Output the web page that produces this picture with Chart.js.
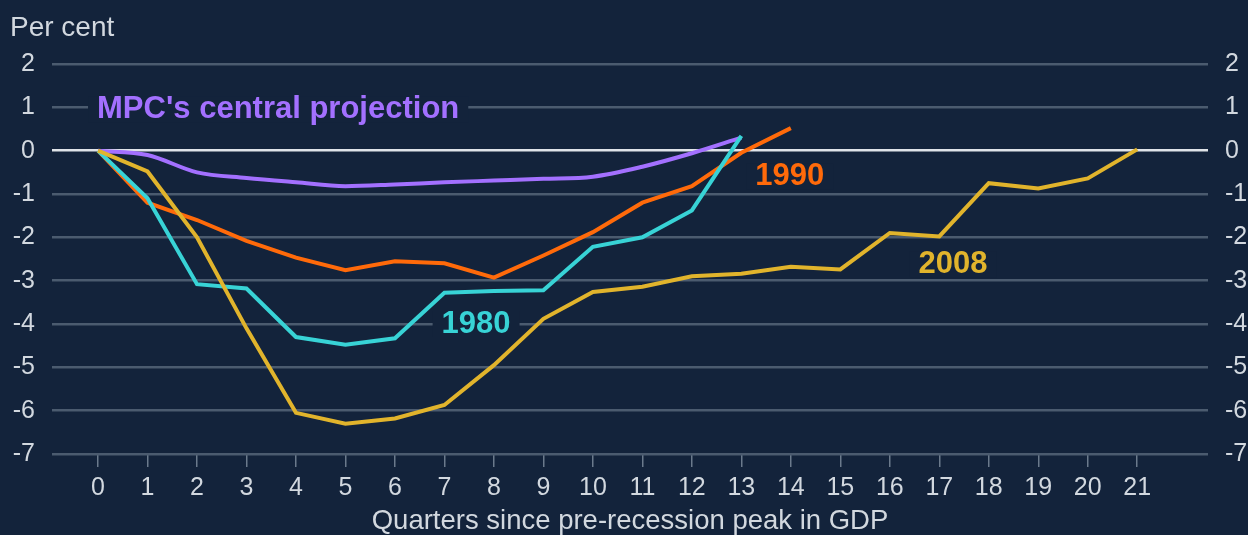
<!DOCTYPE html>
<html>
<head>
<meta charset="utf-8">
<script src="https://cdn.jsdelivr.net/npm/chart.js@4.4.1/dist/chart.umd.min.js"></script>
<style>
  html, body { margin: 0; padding: 0; background: #13233b; }
  #wrap { width: 1248px; height: 535px; }
</style>
</head>
<body>
<div id="wrap"><canvas id="myChart" width="1248" height="535"></canvas></div>
<script>
// quarters since pre-recession peak
var quarters = [0,1,2,3,4,5,6,7,8,9,10,11,12,13,14,15,16,17,18,19,20,21];
var yTicks = [2,1,0,-1,-2,-3,-4,-5,-6,-7];

// per cent change in GDP from peak
var mpc    = [0,-0.1,-0.5,-0.63,-0.73,-0.82,-0.78,-0.73,-0.69,-0.65,-0.6,-0.37,-0.06,0.3];
var r1980  = [0,-1.1,-3.08,-3.18,-4.3,-4.48,-4.33,-3.28,-3.24,-3.22,-2.22,-2.0,-1.38,0.34];
var r1990  = [0,-1.2,-1.6,-2.08,-2.47,-2.76,-2.55,-2.6,-2.93,-2.42,-1.88,-1.2,-0.82,-0.05,0.52];
var r2008  = [0,-0.48,-2.0,-4.1,-6.05,-6.3,-6.18,-5.87,-4.95,-3.88,-3.26,-3.14,-2.9,-2.84,-2.68,-2.74,-1.9,-1.98,-0.75,-0.87,-0.64,0.03];

var bg = "#13233b";
var txt = "#d2d8df";

function pts(arr) {
  return arr.map(function (v, i) { return { x: quarters[i], y: v }; });
}

// series labels sitting on the chart (data coords)
var notes = [
  { text: "MPC's central projection", x: -0.02, y: 0.94, color: "#a370ff", align: "left" },
  { text: "1990", x: 13.28, y: -0.6, color: "#ff6a0a", align: "left" },
  { text: "1980", x: 7.64, y: -4.0, color: "#38d3d6", align: "center" },
  { text: "2008", x: 16.58, y: -2.63, color: "#e1b42c", align: "left" }
];

var notesPlugin = {
  id: 'notes',
  beforeDatasetsDraw: function (chart) {
    var ctx = chart.ctx, xs = chart.scales.x, ys = chart.scales.y;
    ctx.save();
    ctx.font = "bold 31px 'Liberation Sans', Arial, sans-serif";
    ctx.textBaseline = "middle";
    notes.forEach(function (n) {
      var px = xs.getPixelForValue(n.x), py = ys.getPixelForValue(n.y);
      var w = ctx.measureText(n.text).width;
      var left = n.align == "center" ? px - w / 2 : px;
      ctx.fillStyle = bg;
      ctx.fillRect(left - 9, py - 13, w + 18, 26);
      ctx.fillStyle = n.color;
      ctx.textAlign = "left";
      ctx.fillText(n.text, left, py);
    });
    // axis unit
    ctx.font = "28px 'Liberation Sans', Arial, sans-serif";
    ctx.fillStyle = txt;
    ctx.textBaseline = "alphabetic";
    ctx.fillText("Per cent", 10, 36);
    ctx.restore();
  }
};

var ctx = document.getElementById("myChart").getContext('2d');
var myChart = new Chart(ctx, {
  type: 'line',
  data: {
    datasets: [
      { label: "2008", data: pts(r2008), borderColor: "#e1b42c" },
      { label: "1980", data: pts(r1980), borderColor: "#38d3d6" },
      { label: "1990", data: pts(r1990), borderColor: "#ff6a0a" },
      { label: "MPC", data: pts(mpc), borderColor: "#a370ff", cubicInterpolationMode: 'monotone' }
    ]
  },
  options: {
    responsive: false,
    animation: false,
    layout: { padding: { top: 64, bottom: 0, left: 0, right: 0 } },
    elements: {
      line: { borderWidth: 4, tension: 0, fill: false },
      point: { radius: 0 }
    },
    plugins: { legend: { display: false }, tooltip: { enabled: false } },
    scales: {
      x: {
        type: 'linear',
        min: -0.93,
        max: 22.43,
        afterBuildTicks: function (s) { s.ticks = quarters.map(function (q) { return { value: q }; }); },
        afterFit: function (s) { s.height = 81; },
        border: { display: false },
        grid: { drawOnChartArea: false, drawTicks: true, tickLength: 13, color: "#6b7a8c", lineWidth: 1.5 },
        ticks: { color: txt, font: { family: "'Liberation Sans', Arial", size: 25 }, padding: 6, maxRotation: 0, autoSkip: false },
        title: {
          display: true,
          text: "Quarters since pre-recession peak in GDP",
          color: txt,
          font: { family: "'Liberation Sans', Arial", size: 27.5, lineHeight: 1 },
          padding: { top: 0, bottom: 0 }
        }
      },
      y: {
        position: 'left',
        min: -7, max: 2,
        afterBuildTicks: function (s) { s.ticks = yTicks.map(function (v) { return { value: v }; }); },
        afterFit: function (s) { s.width = 52; },
        border: { display: false },
        grid: {
          drawTicks: false,
          color: function (c) { return c.tick && c.tick.value === 0 ? "#dfe3e8" : "#4b5b6f"; },
          lineWidth: 2.5
        },
        ticks: { color: txt, font: { family: "'Liberation Sans', Arial", size: 25 }, padding: 17 }
      },
      y2: {
        position: 'right',
        min: -7, max: 2,
        afterBuildTicks: function (s) { s.ticks = yTicks.map(function (v) { return { value: v }; }); },
        afterFit: function (s) { s.width = 40; },
        border: { display: false },
        grid: { display: false, drawTicks: false },
        ticks: { color: txt, font: { family: "'Liberation Sans', Arial", size: 25 }, padding: 17 }
      }
    }
  },
  plugins: [notesPlugin]
});
</script>
</body>
</html>
